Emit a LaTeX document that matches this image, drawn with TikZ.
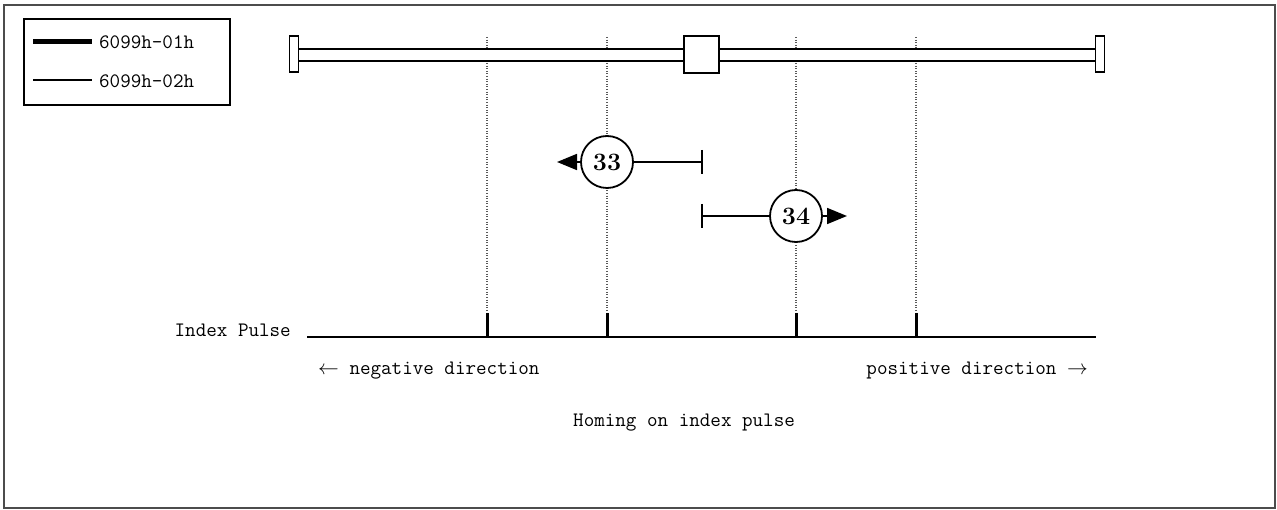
\documentclass[tikz,border=0pt]{standalone}
\usetikzlibrary{arrows.meta,calc}
\begin{document}
\begin{tikzpicture}[x=1pt,y=-1pt,
  txt/.style={inner sep=0pt,font=\fontsize{20.5}{24}\selectfont\ttfamily},
  endcap/.style={draw,line width=1.8pt,fill=white,minimum width=9pt,minimum height=36pt,inner sep=0pt},
  slider/.style={draw,line width=1.8pt,fill=white,minimum width=35pt,minimum height=37pt,inner sep=0pt},
  rail/.style={line width=2pt},
  guide/.style={gray!70!black,line width=1.1pt,dash pattern=on 1pt off 1.6pt},
  tickmark/.style={line width=3pt},
  num/.style={draw,circle,line width=1.8pt,fill=white,minimum size=52pt,inner sep=0pt,font=\fontsize{25}{28}\selectfont\bfseries},
  move/.style={line width=1.8pt},
  tip/.style={-{Triangle[length=20pt,width=16pt]}}
]
\useasboundingbox (0,0) rectangle (1277,510);
% outer frame
\draw[gray!60!black,line width=2pt] (4,5) rectangle (1275,508);
% legend
\node[draw,line width=1.5pt,minimum width=206pt,minimum height=86pt,inner sep=0pt] (legend) at (127,62) {};
\coordinate (l1a) at (33,42); \coordinate (l1b) at (92,42);
\coordinate (l2a) at (33,80); \coordinate (l2b) at (92,80);
\draw[line width=5pt] (l1a) -- (l1b);
\draw[line width=1.8pt] (l2a) -- (l2b);
\node[txt,anchor=west] (t1) at (99,42) {6099h-01h};
\node[txt,anchor=west] (t2) at (99,81) {6099h-02h};
% guide lines
\foreach \x/\n in {487/a,607/b,796/c,916/d}{
  \coordinate (g\n top) at (\x,37);
  \coordinate (g\n bot) at (\x,313);
  \draw[guide] (g\n top) -- (g\n bot);
}
% rail
\fill[white] (299,49) rectangle (1095,61);
\node[endcap] (capL) at (294,54) {};
\node[endcap] (capR) at (1100,54) {};
\node[slider] (sq) at (701.5,54.5) {};
\draw[rail] (capL.east |- 0,49) -- (sq.west |- 0,49);
\draw[rail] (capL.east |- 0,61) -- (sq.west |- 0,61);
\draw[rail] (sq.east |- 0,49) -- (capR.west |- 0,49);
\draw[rail] (sq.east |- 0,61) -- (capR.west |- 0,61);
% index pulse line
\coordinate (ia) at (307,337);
\coordinate (ib) at (1096,337);
\draw[line width=2pt] (ia) -- (ib);
\foreach \n in {a,b,c,d}{
  \draw[tickmark] (g\n bot) -- (g\n bot |- ia);
}
\node[txt,anchor=base east] (ip) at (291,337) {Index Pulse};
\node[txt,anchor=base west] (neg) at (318,375) {$\leftarrow$ negative direction};
\node[txt,anchor=base east] (pos) at (1088,375) {positive direction $\rightarrow$};
\node[txt,anchor=base west] (title) at (573,426) {Homing on index pulse};
% motion 33
\node[num] (c33) at (607,162) {33};
\coordinate (e33) at (557,162);
\coordinate (s33) at (702,162);
\draw[move,tip] (c33.west) -- (e33);
\draw[move] (c33.east) -- (s33);
\draw[move] ($(s33)+(0,-12)$) -- ($(s33)+(0,12)$);
% motion 34
\node[num] (c34) at (796,216) {34};
\coordinate (s34) at (702,216);
\coordinate (e34) at (847,216);
\draw[move] (s34) -- (c34.west);
\draw[move,tip] (c34.east) -- (e34);
\draw[move] ($(s34)+(0,-12)$) -- ($(s34)+(0,12)$);
\end{tikzpicture}
\end{document}
